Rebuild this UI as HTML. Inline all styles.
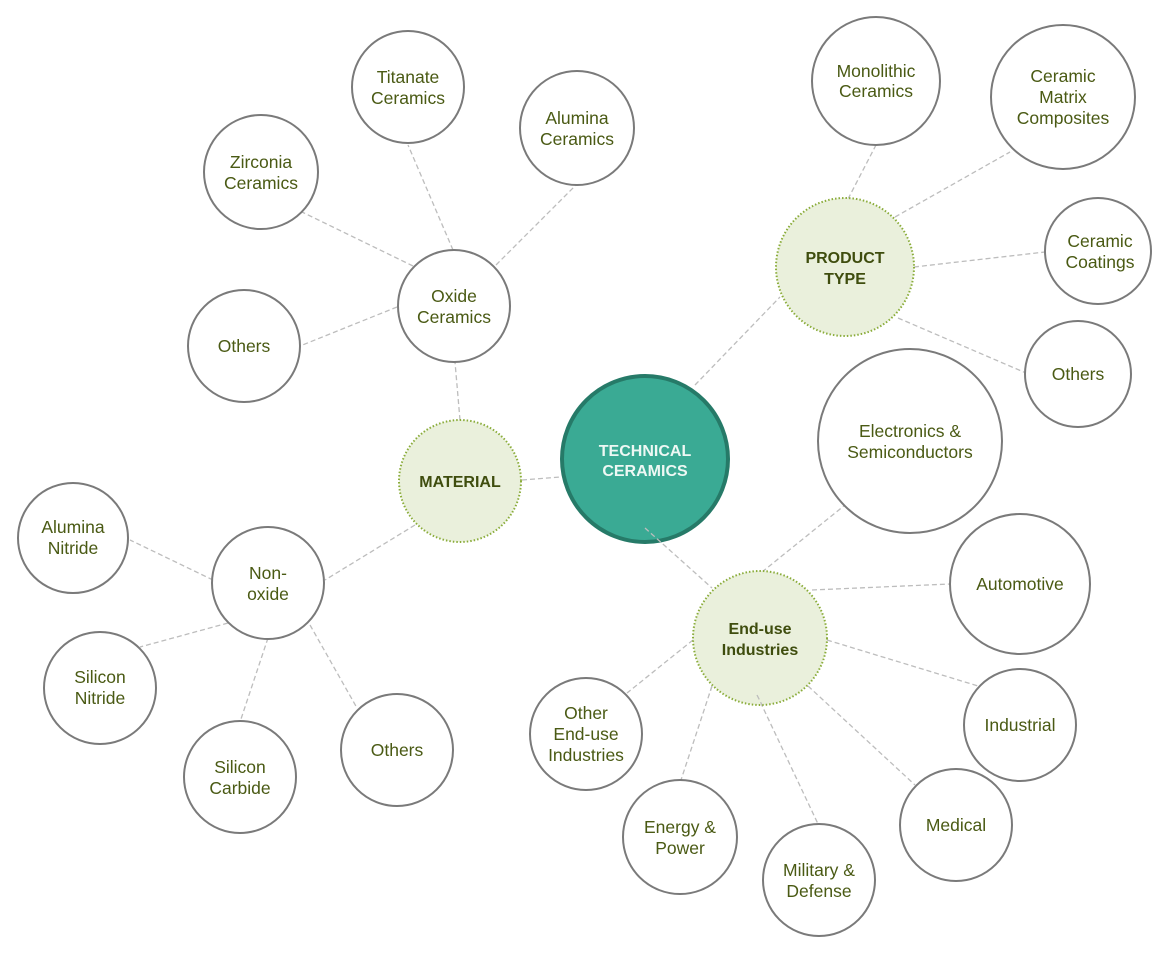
<!DOCTYPE html>
<html><head><meta charset="utf-8"><style>
html,body{margin:0;padding:0;background:#fff;}
svg text{font-family:"Liberation Sans",sans-serif;}
.c{fill:#fff;stroke:#7a7a7a;stroke-width:2;}
.h{fill:#eaf0dc;stroke:#8aac3a;stroke-width:2;stroke-dasharray:1.5 2;}
.t{fill:#4a5a14;font-size:17.5px;text-anchor:middle;}
.b{fill:#3f4d0e;font-size:16px;font-weight:bold;text-anchor:middle;}
.l{stroke:#bdbdbd;stroke-width:1.3;stroke-dasharray:5 3;fill:none;}
</style></head><body>
<svg width="1170" height="955" viewBox="0 0 1170 955" xmlns="http://www.w3.org/2000/svg">
<g class="l">
<line x1="522" y1="480" x2="560" y2="477"/>
<line x1="460" y1="420" x2="455" y2="362"/>
<line x1="415" y1="525" x2="325" y2="580"/>
<line x1="453" y1="250" x2="408" y2="145"/>
<line x1="496" y1="265" x2="577" y2="184"/>
<line x1="413" y1="266" x2="302" y2="212"/>
<line x1="397" y1="307" x2="300" y2="346"/>
<line x1="213" y1="580" x2="130" y2="540"/>
<line x1="228" y1="623" x2="140" y2="647"/>
<line x1="268" y1="638" x2="240" y2="722"/>
<line x1="310" y1="625" x2="357" y2="708"/>
<line x1="695" y1="385" x2="780" y2="297"/>
<line x1="848" y1="199" x2="876" y2="145"/>
<line x1="895" y1="217" x2="1010" y2="152"/>
<line x1="914" y1="267" x2="1045" y2="252"/>
<line x1="898" y1="318" x2="1026" y2="373"/>
<line x1="762" y1="572" x2="845" y2="505"/>
<line x1="812" y1="590" x2="950" y2="584"/>
<line x1="827" y1="640" x2="978" y2="686"/>
<line x1="808" y1="686" x2="915" y2="785"/>
<line x1="757" y1="695" x2="819" y2="826"/>
<line x1="712" y1="686" x2="681" y2="780"/>
<line x1="693" y1="640" x2="627" y2="693"/>
</g>
<circle cx="645" cy="459" r="83" fill="#3aaa94" stroke="#267a68" stroke-width="4"/>
<text x="645" y="456" fill="#eef8f4" font-size="16" font-weight="bold" text-anchor="middle">TECHNICAL</text>
<text x="645" y="476" fill="#eef8f4" font-size="16" font-weight="bold" text-anchor="middle">CERAMICS</text>
<line class="l" x1="645" y1="528" x2="712" y2="588"/>

<circle class="h" cx="460" cy="481" r="61"/><text class="b" x="460" y="487">MATERIAL</text>
<circle class="h" cx="845" cy="267" r="69"/><text class="b" x="845" y="263">PRODUCT</text><text class="b" x="845" y="284">TYPE</text>
<circle class="h" cx="760" cy="638" r="67"/><text class="b" x="760" y="634">End-use</text><text class="b" x="760" y="655">Industries</text>
<g class="l">
<line x1="757" y1="695" x2="762" y2="705"/>
<line x1="712" y1="686" x2="709" y2="695"/>
</g>

<g>
<circle class="c" cx="454" cy="306" r="56"/><text class="t" x="454" y="302">Oxide</text><text class="t" x="454" y="323">Ceramics</text>
<circle class="c" cx="268" cy="583" r="56"/><text class="t" x="268" y="579">Non-</text><text class="t" x="268" y="600">oxide</text>
<circle class="c" cx="408" cy="87" r="56"/><text class="t" x="408" y="83">Titanate</text><text class="t" x="408" y="104">Ceramics</text>
<circle class="c" cx="577" cy="128" r="57"/><text class="t" x="577" y="124">Alumina</text><text class="t" x="577" y="145">Ceramics</text>
<circle class="c" cx="261" cy="172" r="57"/><text class="t" x="261" y="168">Zirconia</text><text class="t" x="261" y="189">Ceramics</text>
<circle class="c" cx="244" cy="346" r="56"/><text class="t" x="244" y="352">Others</text>
<circle class="c" cx="73" cy="538" r="55"/><text class="t" x="73" y="533">Alumina</text><text class="t" x="73" y="554">Nitride</text>
<circle class="c" cx="100" cy="688" r="56"/><text class="t" x="100" y="683">Silicon</text><text class="t" x="100" y="704">Nitride</text>
<circle class="c" cx="240" cy="777" r="56"/><text class="t" x="240" y="773">Silicon</text><text class="t" x="240" y="794">Carbide</text>
<circle class="c" cx="397" cy="750" r="56"/><text class="t" x="397" y="756">Others</text>
<circle class="c" cx="876" cy="81" r="64"/><text class="t" x="876" y="77">Monolithic</text><text class="t" x="876" y="97">Ceramics</text>
<circle class="c" cx="1063" cy="97" r="72"/><text class="t" x="1063" y="82">Ceramic</text><text class="t" x="1063" y="103">Matrix</text><text class="t" x="1063" y="124">Composites</text>
<circle class="c" cx="1098" cy="251" r="53"/><text class="t" x="1100" y="247">Ceramic</text><text class="t" x="1100" y="268">Coatings</text>
<circle class="c" cx="1078" cy="374" r="53"/><text class="t" x="1078" y="380">Others</text>
<circle class="c" cx="910" cy="441" r="92"/><text class="t" x="910" y="437">Electronics &amp;</text><text class="t" x="910" y="458">Semiconductors</text>
<circle class="c" cx="1020" cy="584" r="70"/><text class="t" x="1020" y="590">Automotive</text>
<circle class="c" cx="1020" cy="725" r="56"/><text class="t" x="1020" y="731">Industrial</text>
<circle class="c" cx="956" cy="825" r="56"/><text class="t" x="956" y="831">Medical</text>
<circle class="c" cx="819" cy="880" r="56"/><text class="t" x="819" y="876">Military &amp;</text><text class="t" x="819" y="897">Defense</text>
<circle class="c" cx="680" cy="837" r="57"/><text class="t" x="680" y="833">Energy &amp;</text><text class="t" x="680" y="854">Power</text>
<circle class="c" cx="586" cy="734" r="56"/><text class="t" x="586" y="719">Other</text><text class="t" x="586" y="740">End-use</text><text class="t" x="586" y="761">Industries</text>
</g>
</svg>
</body></html>
